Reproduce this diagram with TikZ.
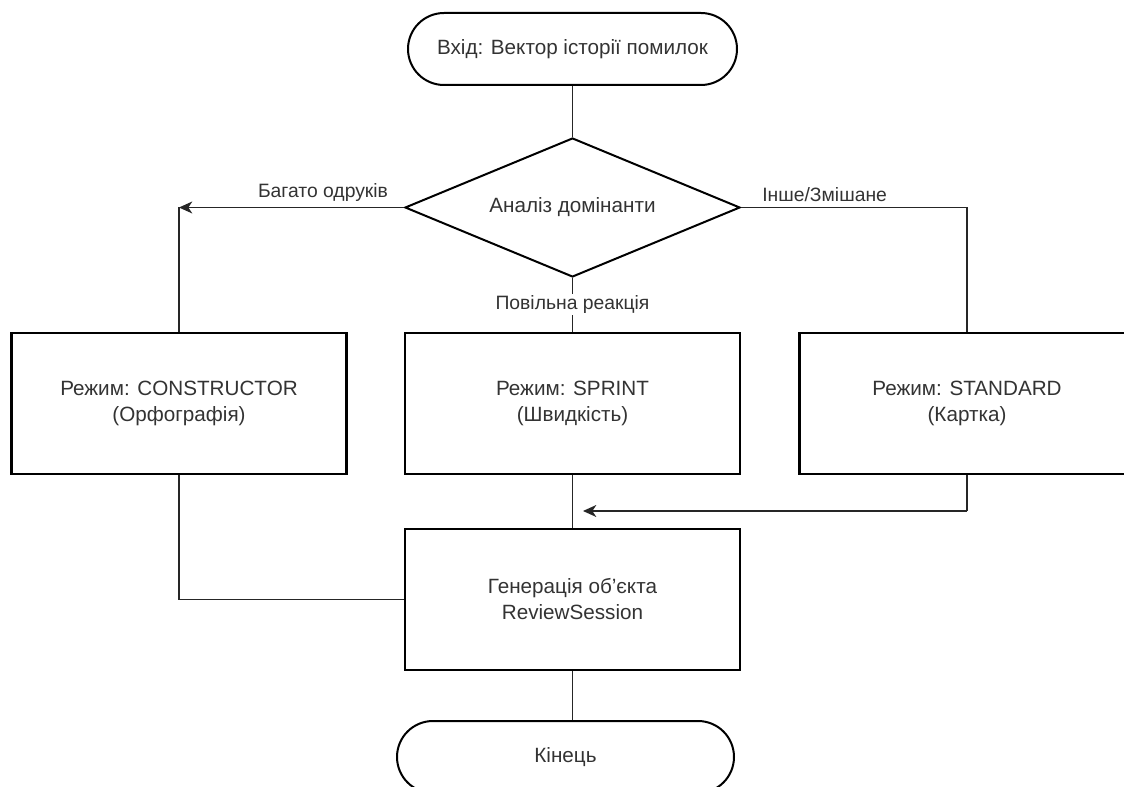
\documentclass[tikz,border=0pt]{standalone}
\usepackage{fontspec}
\setmainfont{Liberation Sans}
\usetikzlibrary{arrows.meta}
\usetikzlibrary{shapes.geometric}
\usetikzlibrary{positioning}
\tikzset{terminal/.style = {draw, line width=1.5pt, rounded corners=27pt,
                            minimum width=246.75pt, minimum height=54pt,
                            text=black!80, font=\fontsize{15.5}{19.5}\selectfont},
         decision/.style = {draw, diamond, line width=1.5pt, inner sep=0pt, aspect=2.4,
                            minimum width=251.25pt, minimum height=104.25pt,
                            text=black!80, font=\fontsize{15.5}{19.5}\selectfont},
         mode/.style = {draw, rectangle, line width=2.2pt, align=center,
                        minimum width=251.25pt, minimum height=105.75pt,
                        text=black!80, font=\fontsize{15.5}{19.5}\selectfont},
         flow/.style = {line width=1pt, black!85},
         tip/.style = {-{Stealth[length=10pt, width=9pt, inset=3pt]}},
         edgelabel/.style = {text=black!80, inner sep=1pt, font=\fontsize{14.5}{17}\selectfont}}

\begin{document}
\begin{tikzpicture}[x=0.75pt, y=-0.75pt]
      \useasboundingbox (0, 0) rectangle (1124, 787);
      \clip (0, 0) rectangle (1124, 787);

      \node [terminal] (start) at (572.5, 49) {Вхід: Вектор історії помилок};
      \node [decision] (dom) at (572.5, 207.5) {Аналіз домінанти};

      \node [mode] (constr) at (179, 403.5) {Режим: CONSTRUCTOR\\(Орфографія)};
      \node [mode] (sprint) at (572.5, 403.5) {Режим: SPRINT\\(Швидкість)};
      \node [mode] (stand) at (967, 403.5) {Режим: STANDARD\\(Картка)};

      \node [mode] (gen) at (572.5, 599.5) {Генерація об'єкта\\ReviewSession};
      \node [terminal, minimum width=252.75pt] (fin) at (565.5, 757) {Кінець};

      \coordinate (lturn) at (constr.north |- dom.west);
      \coordinate (rturn) at (stand.north |- dom.east);
      \coordinate (sturn) at (967, 511);
      \coordinate (merge) at (583, 511);

      \draw [flow] (start) -- (dom);

      \draw [flow, tip] (dom.west) -- (lturn)
            node [pos=0.36, above=3pt, edgelabel] {Багато одруків};
      \draw [flow] (lturn) -- (constr.north);

      \draw [flow] (dom.east) -- node [pos=0.37, above=3pt, edgelabel] {Інше/Змішане}
            (rturn) -- (stand.north);

      \draw [flow] (dom.south) -- (sprint.north)
            node [midway, fill=white, edgelabel] {Повільна реакція};

      \draw [flow] (sprint) -- (gen);
      \draw [flow] (stand.south) -- (sturn);
      \draw [flow, tip] (sturn) -- (merge);
      \draw [flow] (constr.south) |- (gen.west);

      \draw [flow] (gen.south) -- (gen.south |- fin.north);
    \end{tikzpicture}
\end{document}
